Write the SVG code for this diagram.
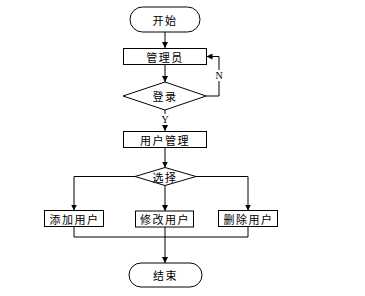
<svg xmlns="http://www.w3.org/2000/svg" width="365" height="296" viewBox="0 0 365 296">
<style>
.box{fill:#fff;stroke:#000;stroke-width:1}
.t{font-family:"Noto Sans CJK SC","Liberation Sans",sans-serif;font-size:11px;fill:#000;text-anchor:middle;dominant-baseline:central;letter-spacing:1.5px}
.lbl{font-family:"Liberation Serif",serif;font-size:10px;fill:#000;text-anchor:middle;dominant-baseline:central}
.ln{fill:none;stroke:#000;stroke-width:1}
</style>
<defs>
<marker id="arr" markerWidth="6" markerHeight="6" refX="6" refY="3" orient="auto" markerUnits="userSpaceOnUse">
<path d="M0,0 L6,3 L0,6 z" fill="#000"/>
</marker>
</defs>
<rect width="365" height="296" fill="#fff"/>
<g id="connectors">
<line class="ln" x1="165" y1="32" x2="165" y2="48" marker-end="url(#arr)"/>
<line class="ln" x1="165" y1="65" x2="165" y2="82" marker-end="url(#arr)"/>
<polyline class="ln" points="206,96 219,96 219,56.5 206.5,56.5" marker-end="url(#arr)"/>
<line class="ln" x1="165" y1="110" x2="165" y2="131" marker-end="url(#arr)"/>
<line class="ln" x1="165" y1="148" x2="165" y2="167.5" marker-end="url(#arr)"/>
<polyline class="ln" points="135,176.5 74,176.5 74,210.5" marker-end="url(#arr)"/>
<polyline class="ln" points="196,176.5 248,176.5 248,210.5" marker-end="url(#arr)"/>
<line class="ln" x1="165" y1="185.5" x2="165" y2="211" marker-end="url(#arr)"/>
<polyline class="ln" points="74,227 74,237 248,237 248,227"/>
<line class="ln" x1="165" y1="227" x2="165" y2="263" stroke-width="1.5" marker-end="url(#arr)"/>
<rect x="214" y="70" width="10" height="11" fill="#fff"/>
<text class="lbl" x="219" y="75.5">N</text>
<rect x="160" y="114" width="10" height="11" fill="#fff"/>
<text class="lbl" x="165" y="119.5">Y</text>
</g>
<g id="start">
<rect class="box" x="130" y="7" width="70" height="25" rx="12.5"/>
<text class="t" x="165" y="19.5">开始</text>
</g>
<g id="admin">
<rect class="box" x="123.5" y="48.5" width="83" height="16"/>
<text class="t" x="165" y="56.5">管理员</text>
</g>
<g id="login">
<polygon class="box" points="123,96 165,82 206,96 165,110"/>
<text class="t" x="165" y="96">登录</text>
</g>
<g id="usermgmt">
<rect class="box" x="123.5" y="131.5" width="83" height="16"/>
<text class="t" x="165" y="139.5">用户管理</text>
</g>
<g id="select">
<polygon class="box" points="135,176.5 165,167.5 196,176.5 165,185.5"/>
<text class="t" x="165" y="176.5">选择</text>
</g>
<g id="add">
<rect class="box" x="44.5" y="210.5" width="59" height="16"/>
<text class="t" x="74.5" y="218.5">添加用户</text>
</g>
<g id="edit">
<rect class="box" x="135.5" y="211" width="58" height="16"/>
<text class="t" x="165" y="219">修改用户</text>
</g>
<g id="delete">
<rect class="box" x="218.5" y="210.5" width="59" height="16"/>
<text class="t" x="248.5" y="218.5">删除用户</text>
</g>
<g id="end">
<rect class="box" x="129" y="263" width="73" height="24" rx="12"/>
<text class="t" x="165.5" y="275">结束</text>
</g>
</svg>
